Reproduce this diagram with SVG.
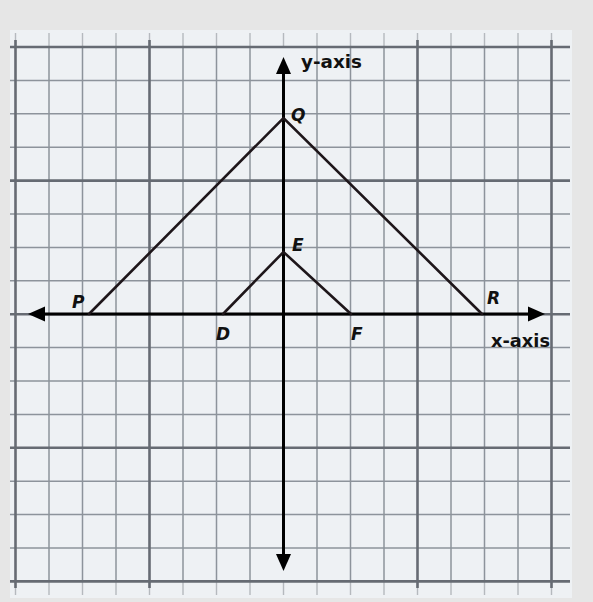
<svg xmlns="http://www.w3.org/2000/svg" width="593" height="602" viewBox="0 0 593 602">
  <style>
    .bg { fill: #e6e6e6; }
    .paper { fill: #eef1f4; }
    .minor { stroke: #8d939b; stroke-width: 1.5; }
    .major { stroke: #666b73; stroke-width: 2.6; }
    .tick { stroke: #b5b9be; stroke-width: 1.4; }
    .axis { stroke: #000; stroke-width: 3; fill: none; }
    .edge { stroke: #1e161a; stroke-width: 2.6; fill: none; stroke-linecap: round; }
    .pt { font-family: "DejaVu Sans", "Liberation Sans", sans-serif; font-weight: bold; font-style: italic; font-size: 17px; fill: #111; }
    .ax { font-family: "DejaVu Sans", "Liberation Sans", sans-serif; font-weight: bold; font-size: 17px; fill: #111; }
  </style>
  <defs>
    <path id="ah" d="M0,0 L-17,-7.5 L-17,7.5 Z" fill="#000"/>
  </defs>
  <rect class="bg" x="0" y="0" width="593" height="602"/>
  <rect class="paper" x="10" y="30" width="562" height="568"/>
  <g id="grid">
    <g class="tick">
      <line x1="15.5" y1="33" x2="15.5" y2="47"/><line x1="49" y1="33" x2="49" y2="47"/><line x1="82.5" y1="33" x2="82.5" y2="47"/><line x1="116" y1="33" x2="116" y2="47"/><line x1="149.5" y1="33" x2="149.5" y2="47"/><line x1="183" y1="33" x2="183" y2="47"/><line x1="216.5" y1="33" x2="216.5" y2="47"/><line x1="250" y1="33" x2="250" y2="47"/><line x1="283.5" y1="33" x2="283.5" y2="47"/><line x1="317" y1="33" x2="317" y2="47"/><line x1="350.5" y1="33" x2="350.5" y2="47"/><line x1="384" y1="33" x2="384" y2="47"/><line x1="417.5" y1="33" x2="417.5" y2="47"/><line x1="451" y1="33" x2="451" y2="47"/><line x1="484.5" y1="33" x2="484.5" y2="47"/><line x1="518" y1="33" x2="518" y2="47"/><line x1="551.5" y1="33" x2="551.5" y2="47"/>
      <line x1="15.5" y1="582" x2="15.5" y2="595"/><line x1="49" y1="582" x2="49" y2="595"/><line x1="82.5" y1="582" x2="82.5" y2="595"/><line x1="116" y1="582" x2="116" y2="595"/><line x1="149.5" y1="582" x2="149.5" y2="595"/><line x1="183" y1="582" x2="183" y2="595"/><line x1="216.5" y1="582" x2="216.5" y2="595"/><line x1="250" y1="582" x2="250" y2="595"/><line x1="283.5" y1="582" x2="283.5" y2="595"/><line x1="317" y1="582" x2="317" y2="595"/><line x1="350.5" y1="582" x2="350.5" y2="595"/><line x1="384" y1="582" x2="384" y2="595"/><line x1="417.5" y1="582" x2="417.5" y2="595"/><line x1="451" y1="582" x2="451" y2="595"/><line x1="484.5" y1="582" x2="484.5" y2="595"/><line x1="518" y1="582" x2="518" y2="595"/><line x1="551.5" y1="582" x2="551.5" y2="595"/>
    </g>
    <g class="minor">
      <line x1="49" y1="47" x2="49" y2="582"/><line x1="82.5" y1="47" x2="82.5" y2="582"/><line x1="116" y1="47" x2="116" y2="582"/><line x1="183" y1="47" x2="183" y2="582"/><line x1="216.5" y1="47" x2="216.5" y2="582"/><line x1="250" y1="47" x2="250" y2="582"/><line x1="317" y1="47" x2="317" y2="582"/><line x1="350.5" y1="47" x2="350.5" y2="582"/><line x1="384" y1="47" x2="384" y2="582"/><line x1="451" y1="47" x2="451" y2="582"/><line x1="484.5" y1="47" x2="484.5" y2="582"/><line x1="518" y1="47" x2="518" y2="582"/>
      <line x1="10" y1="80.4" x2="570" y2="80.4"/><line x1="10" y1="113.8" x2="570" y2="113.8"/><line x1="10" y1="147.2" x2="570" y2="147.2"/><line x1="10" y1="214" x2="570" y2="214"/><line x1="10" y1="247.4" x2="570" y2="247.4"/><line x1="10" y1="280.8" x2="570" y2="280.8"/><line x1="10" y1="347.6" x2="570" y2="347.6"/><line x1="10" y1="381" x2="570" y2="381"/><line x1="10" y1="414.4" x2="570" y2="414.4"/><line x1="10" y1="481.2" x2="570" y2="481.2"/><line x1="10" y1="514.6" x2="570" y2="514.6"/><line x1="10" y1="548" x2="570" y2="548"/>
    </g>
    <g class="major">
      <line x1="15.5" y1="40" x2="15.5" y2="588"/><line x1="149.5" y1="40" x2="149.5" y2="588"/><line x1="417.5" y1="40" x2="417.5" y2="588"/><line x1="551.5" y1="40" x2="551.5" y2="588"/>
      <line x1="10" y1="47" x2="570" y2="47"/><line x1="10" y1="180.6" x2="570" y2="180.6"/><line x1="10" y1="314.2" x2="570" y2="314.2"/><line x1="10" y1="447.8" x2="570" y2="447.8"/><line x1="10" y1="581.4" x2="570" y2="581.4"/>
    </g>
  </g>
  <g id="connectors">
    <line class="axis" x1="283.5" y1="70" x2="283.5" y2="556"/>
    <line class="axis" x1="44" y1="314" x2="528" y2="314"/>
    <use href="#ah" transform="translate(283.5,57) rotate(-90)"/>
    <use href="#ah" transform="translate(283.5,571) rotate(90)"/>
    <use href="#ah" transform="translate(545,314)"/>
    <use href="#ah" transform="translate(28,314) rotate(180)"/>
    <polyline class="edge" points="89,314 283.5,118 482,314"/>
    <polyline class="edge" points="223,314 283.5,252 351,314"/>
  </g>
  <g id="label-y-axis"><text class="ax" x="301" y="68" textLength="61" lengthAdjust="spacingAndGlyphs">y-axis</text></g>
  <g id="label-x-axis"><text class="ax" x="491" y="347" textLength="59" lengthAdjust="spacingAndGlyphs">x-axis</text></g>
  <g id="node-Q"><text class="pt" x="291" y="121">Q</text></g>
  <g id="node-E"><text class="pt" x="292" y="251">E</text></g>
  <g id="node-P"><text class="pt" x="72" y="308">P</text></g>
  <g id="node-D"><text class="pt" x="216" y="340">D</text></g>
  <g id="node-F"><text class="pt" x="351" y="340">F</text></g>
  <g id="node-R"><text class="pt" x="487" y="304">R</text></g>
</svg>
